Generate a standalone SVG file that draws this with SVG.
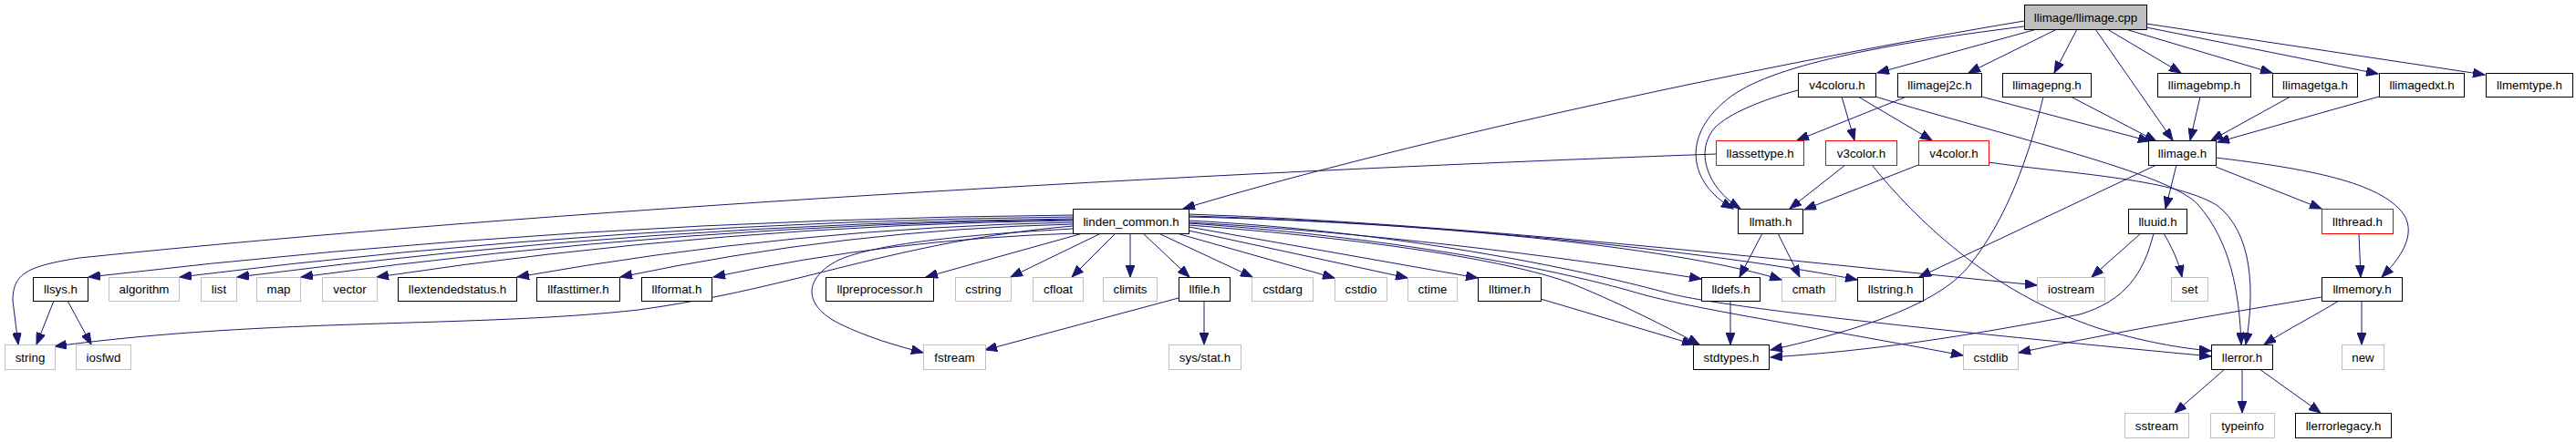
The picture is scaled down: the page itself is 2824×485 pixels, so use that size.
<svg xmlns="http://www.w3.org/2000/svg" width="2824" height="485" viewBox="0 0 2824 485">
<style>
rect{fill:#fff;stroke:#000;stroke-width:1}
.g rect{stroke:#bfbfbf}
.r rect{stroke:#ff0000}
.root rect{fill:#bfbfbf}
text{font-family:"Liberation Sans",Arial,Helvetica,sans-serif;font-size:13.33px;text-anchor:middle;fill:#000}
#edges path{fill:none;stroke:#191970;stroke-width:1;marker-end:url(#ah)}
</style>
<defs>
<marker id="ah" markerUnits="userSpaceOnUse" markerWidth="14" markerHeight="10" refX="13" refY="5" orient="auto">
<path d="M0,0 L13,5 L0,10 z" fill="#191970" stroke="#191970" stroke-width="1"/>
</marker>
</defs>
<rect x="0" y="0" width="2824" height="485" style="fill:#fff;stroke:none"/>
<g id="edges">
<path d="M2219,23 C1950,68 1560,150 1297,229"/>
<path d="M2219,29 C2050,50 1930,75 1890,112 C1845,150 1850,200 1900,229"/>
<path d="M2233,32 L2058,80"/>
<path d="M2255,32 L2158,80"/>
<path d="M2277,32 L2252,80"/>
<path d="M2297,32 L2382,154"/>
<path d="M2310,32 L2391,80"/>
<path d="M2330,32 L2491,80"/>
<path d="M2353,30 L2607,81"/>
<path d="M2353,26 L2724,82"/>
<path d="M1971,99 C1930,110 1895,125 1880,140 C1858,165 1870,205 1908,229"/>
<path d="M2019,106 L2033,154"/>
<path d="M2037,106 L2118,154"/>
<path d="M2056,106 C2200,150 2380,190 2410,225 C2445,265 2455,320 2457,378"/>
<path d="M2090,106 L1970,154"/>
<path d="M2172,106 L2357,155"/>
<path d="M2270,106 L2364,155"/>
<path d="M2240,106 C2225,170 2200,240 2160,290 C2130,330 2050,360 1941,384"/>
<path d="M2412,106 L2401,154"/>
<path d="M2511,106 L2424,154"/>
<path d="M2608,106 L2431,156"/>
<path d="M1881,169 C1300,190 600,230 87,283 C30,292 14,300 14,330 L20,378"/>
<path d="M2023,181 L1962,229"/>
<path d="M2052,181 C2100,240 2180,320 2300,360 C2350,375 2390,382 2424,385"/>
<path d="M2103,181 L1978,230"/>
<path d="M2180,178 C2260,190 2380,195 2430,225 C2470,255 2472,320 2462,378"/>
<path d="M2364,181 L2104,304"/>
<path d="M2386,181 L2374,229"/>
<path d="M2429,183 L2545,229"/>
<path d="M2429,173 C2530,185 2610,200 2635,235 C2650,258 2630,285 2611,304"/>
<path d="M1176,236 Q636,241 97,304"/>
<path d="M1176,238 Q686,243 197,304"/>
<path d="M1176,240 Q718,245 260,304"/>
<path d="M1176,241 Q753,246 330,304"/>
<path d="M1176,242 Q794,247 413,304"/>
<path d="M1176,244 Q871,250 567,304"/>
<path d="M1176,246 Q928,252 680,304"/>
<path d="M1180,256 Q979,262 782,304"/>
<path d="M1176,248 C980,265 880,315 700,340 C520,360 300,348 60,380"/>
<path d="M1176,251 C1050,258 960,268 920,285 C880,305 880,335 920,355 C950,370 985,380 1012,387"/>
<path d="M1187,256 L1015,304"/>
<path d="M1207,256 L1108,304"/>
<path d="M1223,256 L1175,304"/>
<path d="M1239,256 L1239,304"/>
<path d="M1253,256 L1304,304"/>
<path d="M1270,256 L1373,304"/>
<path d="M1290,256 L1463,305"/>
<path d="M1303,253 L1543,305"/>
<path d="M1303,249 L1620,305"/>
<path d="M1303,244 C1500,255 1700,280 1865,306"/>
<path d="M1303,247 C1500,262 1650,285 1720,310 C1770,330 1820,355 1863,378"/>
<path d="M1303,245 C1550,262 1720,300 1790,320 C1850,338 1950,352 2152,390"/>
<path d="M1303,242 C1550,255 1750,300 1830,322 C1900,340 2200,370 2424,391"/>
<path d="M1303,238 C1600,245 1850,275 1953,307"/>
<path d="M1303,237 C1600,245 1900,280 2036,307"/>
<path d="M1303,235 C1600,245 1950,285 2233,313"/>
<path d="M1932,256 L1907,304"/>
<path d="M1949,256 L1973,304"/>
<path d="M1897,330 L1897,378"/>
<path d="M1689,328 L1857,378"/>
<path d="M1292,327 L1080,384"/>
<path d="M1320,330 L1320,378"/>
<path d="M59,330 L40,378"/>
<path d="M74,330 L100,378"/>
<path d="M2347,256 L2293,304"/>
<path d="M2372,256 C2380,270 2388,285 2392,304"/>
<path d="M2361,256 C2350,300 2330,330 2280,345 C2150,370 2050,385 1941,392"/>
<path d="M2586,256 L2588,304"/>
<path d="M2564,330 C2540,345 2510,360 2482,378"/>
<path d="M2589,330 L2589,378"/>
<path d="M2545,326 C2450,342 2330,362 2213,387"/>
<path d="M2439,405 L2384,453"/>
<path d="M2458,405 L2458,453"/>
<path d="M2477,405 L2544,453"/>
</g>
<g id="n-llimage-cpp" class="root"><rect x="2219.5" y="5.5" width="134" height="27"/><text x="2286.5" y="23.5">llimage/llimage.cpp</text></g>
<g id="n-v4coloru"><rect x="1971.5" y="80.5" width="85" height="26"/><text x="2014" y="98">v4coloru.h</text></g>
<g id="n-llimagej2c"><rect x="2080.5" y="80.5" width="92" height="26"/><text x="2126.5" y="98">llimagej2c.h</text></g>
<g id="n-llimagepng"><rect x="2195.5" y="80.5" width="97" height="26"/><text x="2244" y="98">llimagepng.h</text></g>
<g id="n-llimagebmp"><rect x="2365.5" y="80.5" width="102" height="26"/><text x="2416.5" y="98">llimagebmp.h</text></g>
<g id="n-llimagetga"><rect x="2491.5" y="80.5" width="93" height="26"/><text x="2538" y="98">llimagetga.h</text></g>
<g id="n-llimagedxt"><rect x="2608.5" y="80.5" width="93" height="26"/><text x="2655" y="98">llimagedxt.h</text></g>
<g id="n-llmemtype"><rect x="2725.5" y="80.5" width="95" height="26"/><text x="2773" y="98">llmemtype.h</text></g>
<g id="n-llassettype" class="r"><rect x="1881.5" y="154.5" width="96" height="27"/><text x="1929.5" y="172.5">llassettype.h</text></g>
<g id="n-v3color" class="r"><rect x="2001.5" y="154.5" width="78" height="27"/><text x="2040.5" y="172.5">v3color.h</text></g>
<g id="n-v4color" class="r"><rect x="2103.5" y="154.5" width="77" height="27"/><text x="2142" y="172.5">v4color.h</text></g>
<g id="n-llimage-h"><rect x="2355.5" y="154.5" width="74" height="27"/><text x="2392.5" y="172.5">llimage.h</text></g>
<g id="n-linden-common"><rect x="1176.5" y="229.5" width="127" height="27"/><text x="1240" y="247.5">linden_common.h</text></g>
<g id="n-llmath"><rect x="1905.5" y="229.5" width="71" height="27"/><text x="1941" y="247.5">llmath.h</text></g>
<g id="n-lluuid"><rect x="2333.5" y="229.5" width="64" height="27"/><text x="2365.5" y="247.5">lluuid.h</text></g>
<g id="n-llthread" class="r"><rect x="2545.5" y="229.5" width="78" height="27"/><text x="2584.5" y="247.5">llthread.h</text></g>
<g id="n-llsys"><rect x="36.5" y="304.5" width="60" height="26"/><text x="66.5" y="322">llsys.h</text></g>
<g id="n-algorithm" class="g"><rect x="119.5" y="304.5" width="77" height="26"/><text x="158" y="322">algorithm</text></g>
<g id="n-list" class="g"><rect x="220.5" y="304.5" width="39" height="26"/><text x="240" y="322">list</text></g>
<g id="n-map" class="g"><rect x="281.5" y="304.5" width="48" height="26"/><text x="305.5" y="322">map</text></g>
<g id="n-vector" class="g"><rect x="353.5" y="304.5" width="60" height="26"/><text x="383.5" y="322">vector</text></g>
<g id="n-llextendedstatus"><rect x="436.5" y="304.5" width="130" height="26"/><text x="501.5" y="322">llextendedstatus.h</text></g>
<g id="n-llfasttimer"><rect x="588.5" y="304.5" width="91" height="26"/><text x="634" y="322">llfasttimer.h</text></g>
<g id="n-llformat"><rect x="703.5" y="304.5" width="77" height="26"/><text x="742" y="322">llformat.h</text></g>
<g id="n-llpreprocessor"><rect x="905.5" y="304.5" width="118" height="26"/><text x="964.5" y="322">llpreprocessor.h</text></g>
<g id="n-cstring" class="g"><rect x="1047.5" y="304.5" width="61" height="26"/><text x="1078" y="322">cstring</text></g>
<g id="n-cfloat" class="g"><rect x="1132.5" y="304.5" width="55" height="26"/><text x="1160" y="322">cfloat</text></g>
<g id="n-climits" class="g"><rect x="1209.5" y="304.5" width="59" height="26"/><text x="1239" y="322">climits</text></g>
<g id="n-llfile"><rect x="1292.5" y="304.5" width="56" height="26"/><text x="1320.5" y="322">llfile.h</text></g>
<g id="n-cstdarg" class="g"><rect x="1372.5" y="304.5" width="67" height="26"/><text x="1406" y="322">cstdarg</text></g>
<g id="n-cstdio" class="g"><rect x="1463.5" y="304.5" width="57" height="26"/><text x="1492" y="322">cstdio</text></g>
<g id="n-ctime" class="g"><rect x="1543.5" y="304.5" width="54" height="26"/><text x="1570.5" y="322">ctime</text></g>
<g id="n-lltimer"><rect x="1620.5" y="304.5" width="69" height="26"/><text x="1655" y="322">lltimer.h</text></g>
<g id="n-lldefs"><rect x="1865.5" y="304.5" width="64" height="26"/><text x="1897.5" y="322">lldefs.h</text></g>
<g id="n-cmath" class="g"><rect x="1953.5" y="304.5" width="59" height="26"/><text x="1983" y="322">cmath</text></g>
<g id="n-llstring"><rect x="2036.5" y="304.5" width="72" height="26"/><text x="2072.5" y="322">llstring.h</text></g>
<g id="n-iostream" class="g"><rect x="2233.5" y="304.5" width="74" height="26"/><text x="2270.5" y="322">iostream</text></g>
<g id="n-set" class="g"><rect x="2380.5" y="304.5" width="40" height="26"/><text x="2400.5" y="322">set</text></g>
<g id="n-llmemory"><rect x="2545.5" y="304.5" width="88" height="26"/><text x="2589.5" y="322">llmemory.h</text></g>
<g id="n-string" class="g"><rect x="5.5" y="378.5" width="55" height="27"/><text x="33" y="396.5">string</text></g>
<g id="n-iosfwd" class="g"><rect x="83.5" y="378.5" width="60" height="27"/><text x="113.5" y="396.5">iosfwd</text></g>
<g id="n-fstream" class="g"><rect x="1012.5" y="378.5" width="68" height="27"/><text x="1046.5" y="396.5">fstream</text></g>
<g id="n-sysstat" class="g"><rect x="1281.5" y="378.5" width="79" height="27"/><text x="1321" y="396.5">sys/stat.h</text></g>
<g id="n-stdtypes"><rect x="1856.5" y="378.5" width="83" height="27"/><text x="1898" y="396.5">stdtypes.h</text></g>
<g id="n-cstdlib" class="g"><rect x="2152.5" y="378.5" width="60" height="27"/><text x="2182.5" y="396.5">cstdlib</text></g>
<g id="n-llerror"><rect x="2424.5" y="378.5" width="67" height="27"/><text x="2458" y="396.5">llerror.h</text></g>
<g id="n-new" class="g"><rect x="2567.5" y="378.5" width="46" height="27"/><text x="2590.5" y="396.5">new</text></g>
<g id="n-sstream" class="g"><rect x="2329.5" y="453.5" width="70" height="27"/><text x="2364.5" y="471.5">sstream</text></g>
<g id="n-typeinfo" class="g"><rect x="2423.5" y="453.5" width="70" height="27"/><text x="2458.5" y="471.5">typeinfo</text></g>
<g id="n-llerrorlegacy"><rect x="2516.5" y="453.5" width="105" height="27"/><text x="2569" y="471.5">llerrorlegacy.h</text></g>
</svg>
